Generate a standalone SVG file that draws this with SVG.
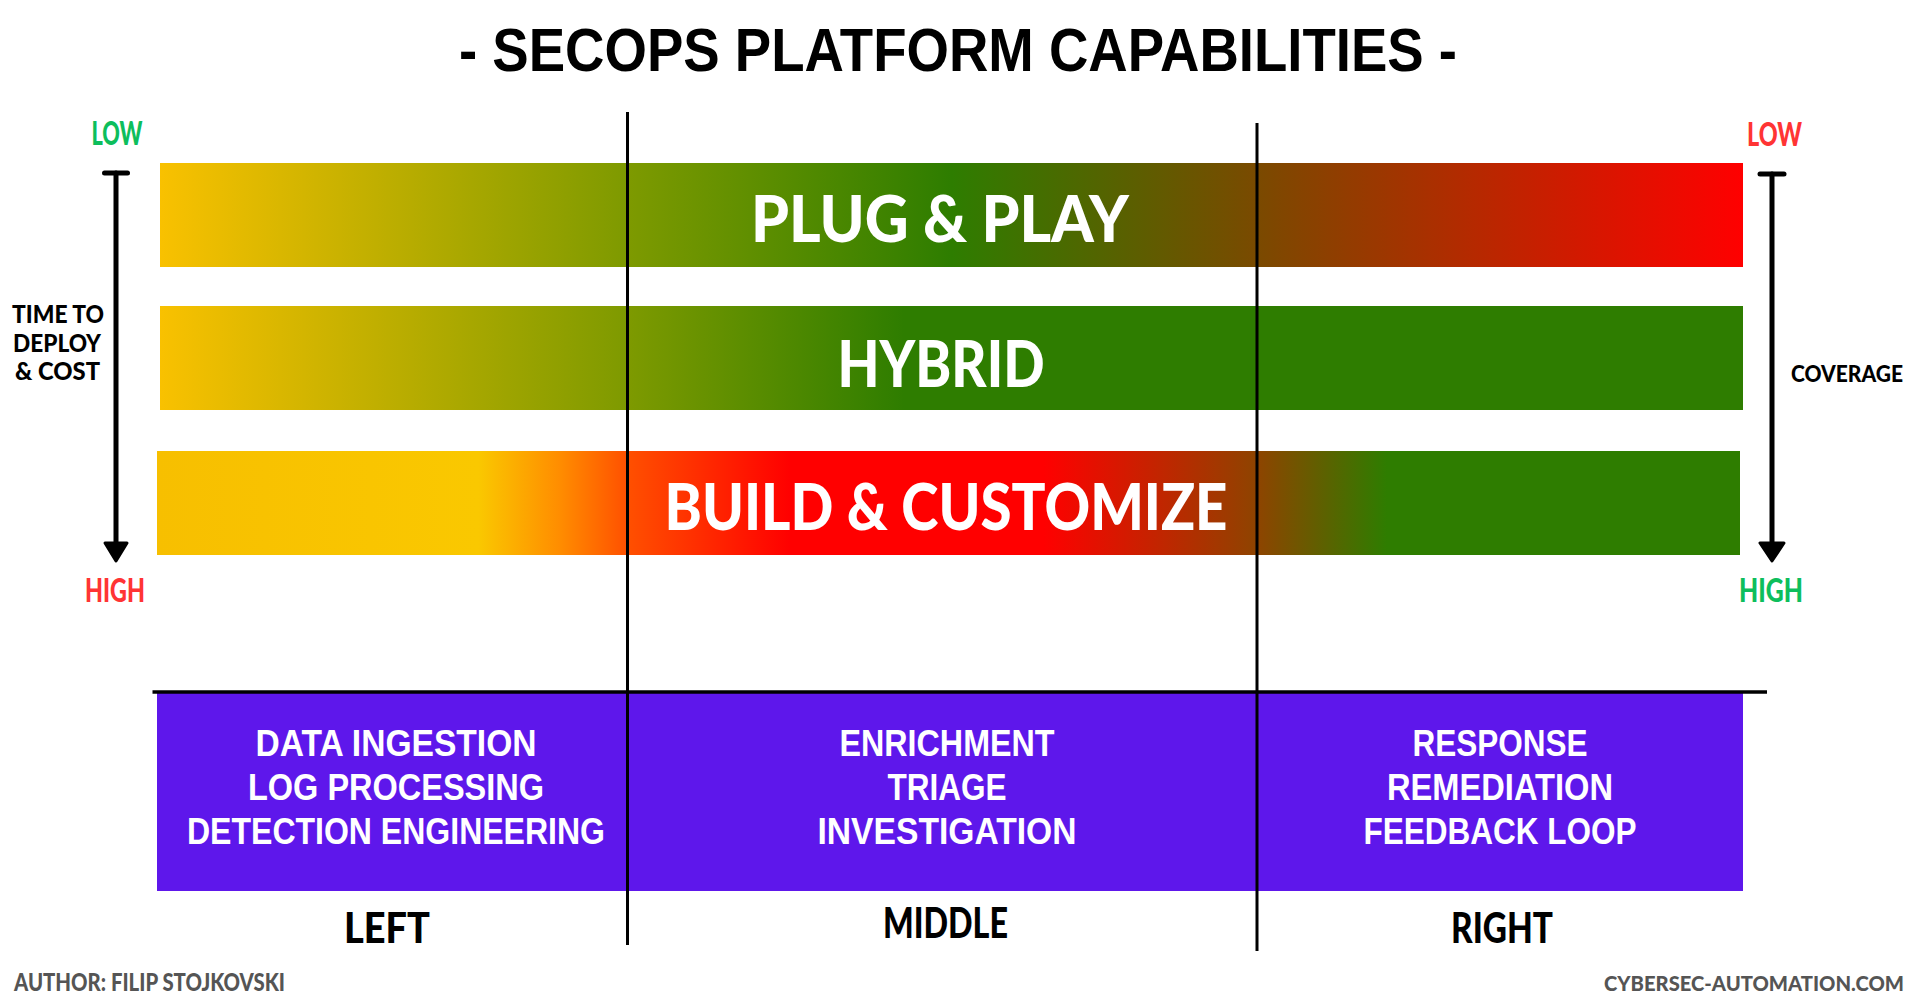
<svg xmlns="http://www.w3.org/2000/svg" width="1920" height="1000" viewBox="0 0 1920 1000">
<defs>
<style>
.brush{font-family:"Lato","Roboto","DejaVu Sans",sans-serif;font-weight:900;}
.title{font-family:"Liberation Sans","DejaVu Sans",sans-serif;font-weight:bold;font-size:62px;fill:#000;}
.bar-label{fill:#fff;font-size:64px;text-anchor:middle;}
.box-text{font-family:"Liberation Sans","Open Sans",sans-serif;font-weight:bold;font-size:36px;fill:#fff;text-anchor:middle;}
.side{fill:#000;font-size:25px;text-anchor:middle;}
.green{fill:#0DBE5C;}
.red{fill:#FF3434;}
.lvl{font-size:32px;text-anchor:middle;}
.col{fill:#000;font-size:42px;text-anchor:middle;}
.foot{fill:#555;font-size:25px;}
.axis{stroke:#000;stroke-width:5;stroke-linecap:round;fill:none;}
.div{stroke:#000;stroke-width:3;}
</style>
<linearGradient id="g1" gradientUnits="userSpaceOnUse" x1="160" y1="0" x2="1743" y2="0">
<stop offset="0" stop-color="#F9C100"/>
<stop offset="0.295" stop-color="#7E9A00"/>
<stop offset="0.50" stop-color="#2E7D00"/>
<stop offset="0.693" stop-color="#7A4A00"/>
<stop offset="1" stop-color="#FF0000"/>
</linearGradient>
<linearGradient id="g2" gradientUnits="userSpaceOnUse" x1="160" y1="0" x2="1743" y2="0">
<stop offset="0" stop-color="#F9C100"/>
<stop offset="0.295" stop-color="#7E9A00"/>
<stop offset="0.47" stop-color="#2E7D00"/>
<stop offset="1" stop-color="#2E7D00"/>
</linearGradient>
<linearGradient id="g3" gradientUnits="userSpaceOnUse" x1="157" y1="0" x2="1740" y2="0">
<stop offset="0" stop-color="#F7BF00"/>
<stop offset="0.203" stop-color="#FAC800"/>
<stop offset="0.255" stop-color="#FF8C00"/>
<stop offset="0.297" stop-color="#FF5000"/>
<stop offset="0.40" stop-color="#FF0000"/>
<stop offset="0.56" stop-color="#FF0000"/>
<stop offset="0.695" stop-color="#8E4400"/>
<stop offset="0.777" stop-color="#2E7D00"/>
<stop offset="1" stop-color="#2E7D00"/>
</linearGradient>
</defs>
<rect width="1920" height="1000" fill="#fff"/>

<g id="title">
<text class="title" x="958" y="71" text-anchor="middle" textLength="998" lengthAdjust="spacingAndGlyphs">- SECOPS PLATFORM CAPABILITIES -</text>
</g>

<g id="bar-plug-play">
<rect x="160" y="163" width="1583" height="104" fill="url(#g1)"/>
<text class="brush bar-label" x="940" y="242" textLength="378" lengthAdjust="spacingAndGlyphs">PLUG &amp; PLAY</text>
</g>
<g id="bar-hybrid">
<rect x="160" y="306" width="1583" height="104" fill="url(#g2)"/>
<text class="brush bar-label" x="941" y="387" textLength="207" lengthAdjust="spacingAndGlyphs">HYBRID</text>
</g>
<g id="bar-build">
<rect x="157" y="451" width="1583" height="104" fill="url(#g3)"/>
<text class="brush bar-label" x="946" y="530" textLength="563" lengthAdjust="spacingAndGlyphs">BUILD &amp; CUSTOMIZE</text>
</g>

<g id="capabilities">
<rect x="157" y="693" width="1586" height="198" fill="#5E17EB"/>
<text class="box-text" x="396" y="756" textLength="281" lengthAdjust="spacingAndGlyphs">DATA INGESTION</text>
<text class="box-text" x="396" y="800" textLength="296" lengthAdjust="spacingAndGlyphs">LOG PROCESSING</text>
<text class="box-text" x="396" y="844" textLength="418" lengthAdjust="spacingAndGlyphs">DETECTION ENGINEERING</text>
<text class="box-text" x="947" y="756" textLength="215" lengthAdjust="spacingAndGlyphs">ENRICHMENT</text>
<text class="box-text" x="947" y="800" textLength="119" lengthAdjust="spacingAndGlyphs">TRIAGE</text>
<text class="box-text" x="947" y="844" textLength="259" lengthAdjust="spacingAndGlyphs">INVESTIGATION</text>
<text class="box-text" x="1500" y="756" textLength="175" lengthAdjust="spacingAndGlyphs">RESPONSE</text>
<text class="box-text" x="1500" y="800" textLength="226" lengthAdjust="spacingAndGlyphs">REMEDIATION</text>
<text class="box-text" x="1500" y="844" textLength="273" lengthAdjust="spacingAndGlyphs">FEEDBACK LOOP</text>
</g>

<g id="connectors">
<line class="div" x1="627.5" y1="112" x2="627.5" y2="945"/>
<line class="div" x1="1257" y1="123" x2="1257" y2="951"/>
<line stroke="#000" stroke-width="3.5" x1="152.5" y1="692" x2="1767" y2="692"/>
<line class="axis" x1="104.5" y1="173" x2="127.5" y2="173"/>
<line class="axis" x1="116" y1="173" x2="116" y2="548"/>
<path d="M105 543 L127 543 L116 561 Z" fill="#000" stroke="#000" stroke-width="3" stroke-linejoin="round"/>
<line class="axis" x1="1760" y1="174" x2="1784" y2="174"/>
<line class="axis" x1="1772" y1="174" x2="1772" y2="548"/>
<path d="M1760 543 L1784 543 L1772 561 Z" fill="#000" stroke="#000" stroke-width="3" stroke-linejoin="round"/>
</g>

<g id="left-axis-labels">
<text class="brush lvl green" x="117" y="145" textLength="51" lengthAdjust="spacingAndGlyphs">LOW</text>
<text class="brush lvl red" x="115" y="602" textLength="60" lengthAdjust="spacingAndGlyphs">HIGH</text>
<text class="brush side" x="58" y="323" textLength="92" lengthAdjust="spacingAndGlyphs">TIME TO</text>
<text class="brush side" x="57" y="352" textLength="88" lengthAdjust="spacingAndGlyphs">DEPLOY</text>
<text class="brush side" x="57.5" y="380" textLength="85" lengthAdjust="spacingAndGlyphs">&amp; COST</text>
</g>
<g id="right-axis-labels">
<text class="brush lvl red" x="1774.5" y="146" textLength="55" lengthAdjust="spacingAndGlyphs">LOW</text>
<text class="brush lvl green" x="1771" y="602" textLength="64" lengthAdjust="spacingAndGlyphs">HIGH</text>
<text class="brush" x="1847" y="382" font-size="22" fill="#000" text-anchor="middle" textLength="112" lengthAdjust="spacingAndGlyphs">COVERAGE</text>
</g>

<g id="column-labels">
<text class="brush col" x="387" y="943" textLength="86" lengthAdjust="spacingAndGlyphs">LEFT</text>
<text class="brush col" x="945.5" y="938" textLength="125" lengthAdjust="spacingAndGlyphs">MIDDLE</text>
<text class="brush col" x="1502" y="943" textLength="102" lengthAdjust="spacingAndGlyphs">RIGHT</text>
</g>

<g id="footer">
<text class="brush foot" x="14" y="991" textLength="271" lengthAdjust="spacingAndGlyphs">AUTHOR: FILIP STOJKOVSKI</text>
<text class="brush" x="1754" y="991" font-size="21" fill="#555" text-anchor="middle" textLength="300" lengthAdjust="spacingAndGlyphs">CYBERSEC-AUTOMATION.COM</text>
</g>
</svg>
